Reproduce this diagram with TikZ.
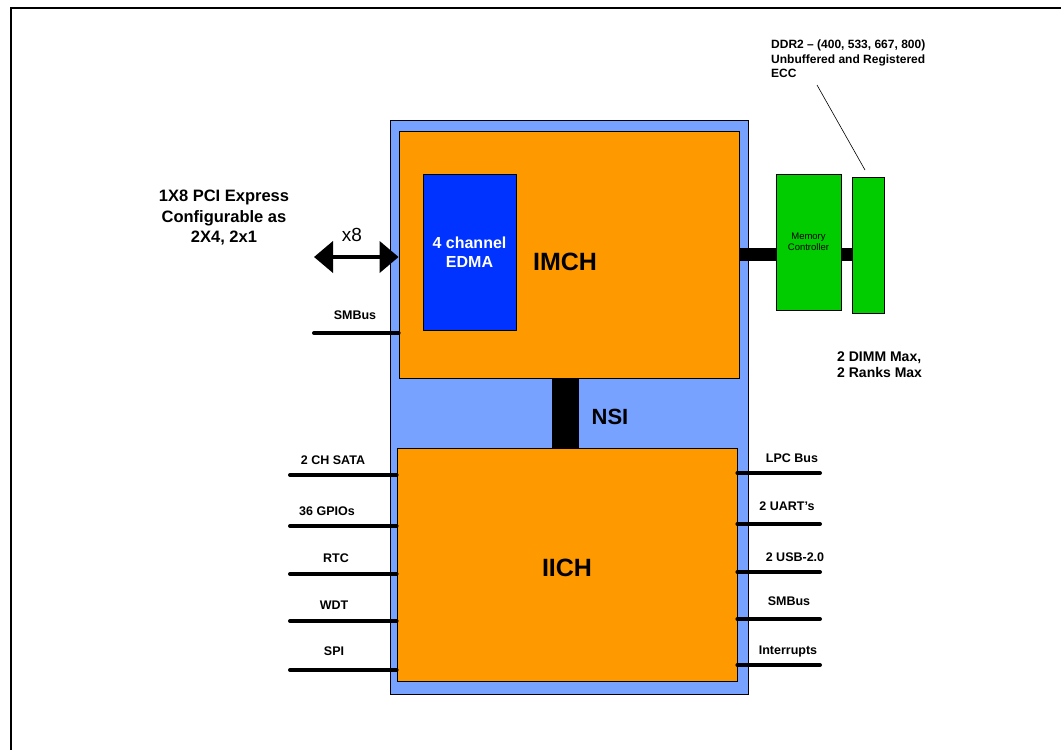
\documentclass[tikz,border=0pt]{standalone}
\usepackage{fontspec}
\setmainfont{Liberation Sans}
\usepackage{tikz}
\usetikzlibrary{arrows.meta}
\usetikzlibrary{positioning}

\definecolor{chipblue}{RGB}{120,162,255}
\definecolor{chiporange}{RGB}{255,153,0}
\definecolor{dmablue}{RGB}{0,51,255}
\definecolor{memgreen}{RGB}{0,204,0}

\begin{document}
\begin{tikzpicture}
  [x=1pt, y=-1pt,
  box/.style={rectangle, draw, line width=0.8pt, inner sep=0pt},
  bus/.style={line width=4pt, line cap=round},
  fatbus/.style={line width=13pt},
  lbl/.style={inner sep=0pt, font=\fontsize{12.5}{14}\selectfont\bfseries},
  big/.style={inner sep=0pt, font=\fontsize{25}{28}\selectfont\bfseries}]
\useasboundingbox (0,0) rectangle (1061,750);
\draw [line width=2pt] (11,750) -- (11,8) -- (1061,8);

% chip package
\node [box, fill=chipblue, minimum width=358pt, minimum height=574pt] (pkg) at (569,407) {};
\node [box, fill=chiporange, minimum width=340pt, minimum height=247pt] (imch) at (569,254.5) {};
\node [box, fill=chiporange, minimum width=340pt, minimum height=233pt] (iich) at (567,564.5) {};
\node [box, fill=dmablue, minimum width=93pt, minimum height=156pt, text=white, align=center,
  font=\fontsize{16}{19}\selectfont\bfseries] (edma) at (469.5,252) {4 channel\\EDMA};
\node [big] (imchlbl) at (565,262) {IMCH};
\node [big] (iichlbl) at (567,568) {IICH};

% NSI
\draw [line width=27pt] ([xshift=-3.5pt]imch.south) -- ([xshift=-3.5pt]imch.south |- iich.north);
\node [inner sep=0pt, font=\fontsize{22}{26}\selectfont\bfseries] (nsi) at (610,417) {NSI};

% memory
\node [box, fill=memgreen, minimum width=65pt, minimum height=136pt, align=center,
  font=\fontsize{9.5}{11}\selectfont] (mc) at (808.5,242) {Memory\\Controller};
\node [box, fill=memgreen, minimum width=32pt, minimum height=136pt] (dimm) at (868,245) {};
\draw [fatbus] (imch.east) -- (mc.west |- imch.east);
\draw [fatbus] (mc.east |- imch.east) -- (dimm.west |- imch.east);
\node [inner sep=0pt, anchor=west, align=left, font=\fontsize{12}{14.5}\selectfont\bfseries]
  (ddr) at (771,59) {DDR2 -- (400, 533, 667, 800)\\Unbuffered and Registered\\ECC};
\coordinate (ddrtop) at (817,85);
\coordinate (ddrend) at (865,170);
\draw [line width=0.6pt] (ddrtop) -- (ddrend);
\node [inner sep=0pt, anchor=west, align=left, font=\fontsize{14}{16}\selectfont\bfseries]
  (dimmmax) at (837,365) {2 DIMM Max,\\2 Ranks Max};

% PCI Express
\node [inner sep=0pt, align=center, font=\fontsize{16.5}{20.5}\selectfont\bfseries]
  (pcie) at (224,218) {1X8 PCI Express\\Configurable as\\2X4, 2x1};
\node [inner sep=0pt, font=\fontsize{19}{22}\selectfont] (xeight) at (352,235) {x8};
\coordinate (pciend) at (314,257);
\draw [line width=4pt, {Triangle[length=19pt,width=31pt]}-{Triangle[length=19pt,width=31pt]}]
  (pciend) -- (pciend -| imch.west);

% SMBus to IMCH
\node [lbl] (smbusa) at (355,315) {SMBus};
\coordinate (smbusaend) at (314,333);
\draw [bus] (smbusaend) -- (smbusaend -| imch.west);

% IICH left side
\node [lbl] (sata) at (333,460) {2 CH SATA};
\node [lbl] (gpio) at (327,511) {36 GPIOs};
\node [lbl] (rtc) at (336,558) {RTC};
\node [lbl] (wdt) at (334,605) {WDT};
\node [lbl] (spi) at (334,651) {SPI};
\coordinate (sataend) at (290,475);
\coordinate (gpioend) at (290,526);
\coordinate (rtcend) at (290,574);
\coordinate (wdtend) at (290,621);
\coordinate (spiend) at (290,670);
\draw [bus] (sataend) -- (sataend -| iich.west);
\draw [bus] (gpioend) -- (gpioend -| iich.west);
\draw [bus] (rtcend) -- (rtcend -| iich.west);
\draw [bus] (wdtend) -- (wdtend -| iich.west);
\draw [bus] (spiend) -- (spiend -| iich.west);

% IICH right side
\node [lbl] (lpc) at (792,458) {LPC Bus};
\node [lbl] (uart) at (787,506) {2 UART's};
\node [lbl] (usb) at (795,557) {2 USB-2.0};
\node [lbl] (smbusb) at (789,601) {SMBus};
\node [lbl] (intr) at (788,651) {Interrupts};
\coordinate (lpcend) at (820,473);
\coordinate (uartend) at (820,524);
\coordinate (usbend) at (820,572);
\coordinate (smbusbend) at (820,619);
\coordinate (intrend) at (820,665);
\draw [bus] (lpcend -| iich.east) -- (lpcend);
\draw [bus] (uartend -| iich.east) -- (uartend);
\draw [bus] (usbend -| iich.east) -- (usbend);
\draw [bus] (smbusbend -| iich.east) -- (smbusbend);
\draw [bus] (intrend -| iich.east) -- (intrend);
\end{tikzpicture}
\end{document}
